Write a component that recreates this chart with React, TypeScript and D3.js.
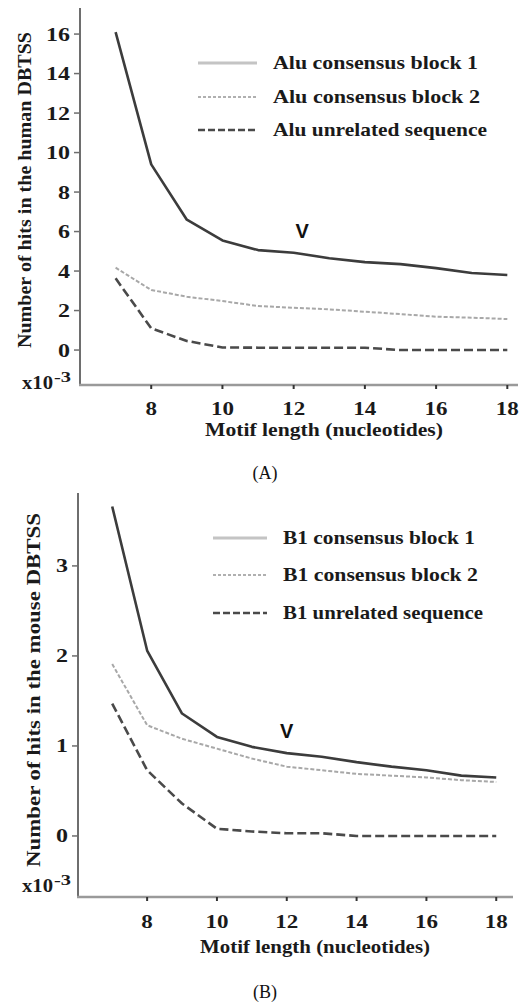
import React from "react";
import * as d3 from "d3";

const motifLengths = [7, 8, 9, 10, 11, 12, 13, 14, 15, 16, 17, 18];

const humanBlock1 = [16.1, 9.4, 6.6, 5.55, 5.06, 4.93, 4.65, 4.45, 4.35, 4.15, 3.9, 3.8];
const humanBlock2 = [4.17, 3.04, 2.7, 2.48, 2.23, 2.14, 2.06, 1.94, 1.82, 1.69, 1.64, 1.57];
const humanUnrelated = [3.63, 1.1, 0.46, 0.13, 0.12, 0.12, 0.12, 0.12, 0.0, 0.0, 0.0, 0.0];

const mouseBlock1 = [3.66, 2.06, 1.36, 1.1, 0.99, 0.92, 0.88, 0.82, 0.77, 0.73, 0.67, 0.65];
const mouseBlock2 = [1.91, 1.23, 1.08, 0.97, 0.86, 0.77, 0.73, 0.69, 0.67, 0.65, 0.62, 0.6];
const mouseUnrelated = [1.47, 0.73, 0.36, 0.08, 0.05, 0.03, 0.03, 0.0, 0.0, 0.0, 0.0, 0.0];

const xTicks = [8, 10, 12, 14, 16, 18];
const humanYTicks = [0, 2, 4, 6, 8, 10, 12, 14, 16];
const mouseYTicks = [0, 1, 2, 3];

const humanLegend = ["Alu consensus block 1", "Alu consensus block 2", "Alu unrelated sequence"];
const mouseLegend = ["B1 consensus block 1", "B1 consensus block 2", "B1 unrelated sequence"];

const FONT = "Liberation Serif, Times New Roman, serif";
const SANS = "Liberation Sans, Arial, sans-serif";

type Style = { stroke: string; width: number; dash?: string };
const curveStyles: Style[] = [
  { stroke: "#3c3c3c", width: 2.6 },
  { stroke: "#a8a8a8", width: 2, dash: "4,2" },
  { stroke: "#4a4a4a", width: 2.6, dash: "9,4" },
];
const legendStyles: Style[] = [
  { stroke: "#c4c4c4", width: 3 },
  { stroke: "#b0b0b0", width: 2, dash: "3,2" },
  { stroke: "#4a4a4a", width: 2.6, dash: "7,3" },
];

type PanelProps = {
  series: number[][];
  yTicks: number[];
  xDomain: [number, number];
  xRange: [number, number];
  yDomain: [number, number];
  yRange: [number, number];
  legend: string[];
  legendWidths: number[];
  legendX: [number, number, number];
  legendY: number[];
  yLabel: string;
  yLabelX: number;
  yLabelCenter: number;
  yLabelLen: number;
  tickLabelRight: number;
  xTickBaseline: number;
  xLabelBaseline: number;
  xLabelCenter: number;
  xLabelLen: number;
  caption: string;
  captionBaseline: number;
  expBaseline: number;
  marker: [number, number];
};

function Panel(p: PanelProps) {
  const x = d3.scaleLinear().domain(p.xDomain).range(p.xRange);
  const y = d3.scaleLinear().domain(p.yDomain).range(p.yRange);
  const line = d3
    .line<number>()
    .x((_, i) => x(motifLengths[i]))
    .y((d) => y(d));
  const [x0, x1] = p.xRange;
  const [yb, yt] = p.yRange;
  return (
    <g fontFamily={FONT} fontWeight="bold" fill="#1a1a1a">
      {/* axes */}
      <line x1={x0} x2={x0} y1={yt} y2={yb + 1} stroke="#6e6e6e" strokeWidth={2} />
      <line x1={x0 - 1} x2={x1} y1={yb} y2={yb} stroke="#9a9a9a" strokeWidth={2.5} />
      {p.yTicks.map((t) => (
        <g key={"y" + t}>
          <line x1={x0 - 6} x2={x0} y1={y(t)} y2={y(t)} stroke="#6e6e6e" strokeWidth={1.5} />
          <text
            x={p.tickLabelRight}
            y={y(t) + 6.5}
            textAnchor="end"
            fontSize={19}
            textLength={String(t).length * 12}
            lengthAdjust="spacingAndGlyphs"
          >
            {t}
          </text>
        </g>
      ))}
      {xTicks.map((t) => (
        <g key={"x" + t}>
          <line x1={x(t)} x2={x(t)} y1={yb} y2={yb + 4} stroke="#333" strokeWidth={2} />
          <text
            x={x(t)}
            y={p.xTickBaseline}
            textAnchor="middle"
            fontSize={19}
            textLength={String(t).length * 11.5}
            lengthAdjust="spacingAndGlyphs"
          >
            {t}
          </text>
        </g>
      ))}
      {/* exponent */}
      <text x={22} y={p.expBaseline} fontSize={19} textLength={31} lengthAdjust="spacingAndGlyphs">
        x10
      </text>
      <text x={54} y={p.expBaseline - 7} fontSize={15} textLength={17} lengthAdjust="spacingAndGlyphs">
        -3
      </text>
      {/* y label */}
      <text
        transform={`translate(${p.yLabelX},${p.yLabelCenter}) rotate(-90)`}
        textAnchor="middle"
        fontSize={19}
        textLength={p.yLabelLen}
        lengthAdjust="spacingAndGlyphs"
      >
        {p.yLabel}
      </text>
      {/* x label */}
      <text
        x={p.xLabelCenter}
        y={p.xLabelBaseline}
        textAnchor="middle"
        fontSize={19}
        textLength={p.xLabelLen}
        lengthAdjust="spacingAndGlyphs"
      >
        Motif length (nucleotides)
      </text>
      {/* curves */}
      {p.series.map((s, i) => (
        <path
          key={"s" + i}
          d={line(s) || ""}
          fill="none"
          stroke={curveStyles[i].stroke}
          strokeWidth={curveStyles[i].width}
          strokeDasharray={curveStyles[i].dash}
          strokeLinejoin="round"
        />
      ))}
      {/* marker */}
      <text
        x={x(p.marker[0])}
        y={y(p.marker[1])}
        textAnchor="middle"
        fontSize={20}
        fontFamily={SANS}
        fill="#111"
      >
        V
      </text>
      {/* legend */}
      {p.legend.map((name, i) => (
        <g key={"l" + i}>
          <line
            x1={p.legendX[0]}
            x2={p.legendX[1]}
            y1={p.legendY[i]}
            y2={p.legendY[i]}
            stroke={legendStyles[i].stroke}
            strokeWidth={legendStyles[i].width}
            strokeDasharray={legendStyles[i].dash}
          />
          <text
            x={p.legendX[2]}
            y={p.legendY[i] + 6}
            fontSize={19}
            textLength={p.legendWidths[i]}
            lengthAdjust="spacingAndGlyphs"
          >
            {name}
          </text>
        </g>
      ))}
      {/* caption */}
      <text
        x={265}
        y={p.captionBaseline}
        textAnchor="middle"
        fontSize={18}
        fontWeight="normal"
        fill="#111"
      >
        {p.caption}
      </text>
    </g>
  );
}

export default function App() {
  return (
    <svg
      width={531}
      height={1003}
      viewBox="0 0 531 1003"
      style={{ position: "absolute", left: 0, top: 0, background: "#fff" }}
    >
      <rect width={531} height={1003} fill="#fff" />
      <Panel
        series={[humanBlock1, humanBlock2, humanUnrelated]}
        yTicks={humanYTicks}
        xDomain={[6, 18.3]}
        xRange={[80, 518]}
        yDomain={[-1.77, 17.32]}
        yRange={[385, 8]}
        legend={humanLegend}
        legendWidths={[205, 207, 214]}
        legendX={[198, 257, 273]}
        legendY={[63, 97, 130]}
        yLabel="Number of hits in the human DBTSS"
        yLabelX={31}
        yLabelCenter={190}
        yLabelLen={316}
        tickLabelRight={70}
        xTickBaseline={415}
        xLabelBaseline={436}
        xLabelCenter={324}
        xLabelLen={238}
        caption="(A)"
        captionBaseline={479}
        expBaseline={389}
        marker={[12.24, 5.67]}
      />
      <Panel
        series={[mouseBlock1, mouseBlock2, mouseUnrelated]}
        yTicks={mouseYTicks}
        xDomain={[6.02, 18.48]}
        xRange={[78, 513]}
        yDomain={[-0.678, 3.81]}
        yRange={[897, 493]}
        legend={mouseLegend}
        legendWidths={[192, 195, 200]}
        legendX={[213, 267, 283]}
        legendY={[538, 575, 613]}
        yLabel="Number of hits in the mouse DBTSS"
        yLabelX={40}
        yLabelCenter={690}
        yLabelLen={354}
        tickLabelRight={68}
        xTickBaseline={928}
        xLabelBaseline={953}
        xLabelCenter={315}
        xLabelLen={230}
        caption="(B)"
        captionBaseline={998}
        expBaseline={892}
        marker={[12.0, 1.09]}
      />
    </svg>
  );
}
